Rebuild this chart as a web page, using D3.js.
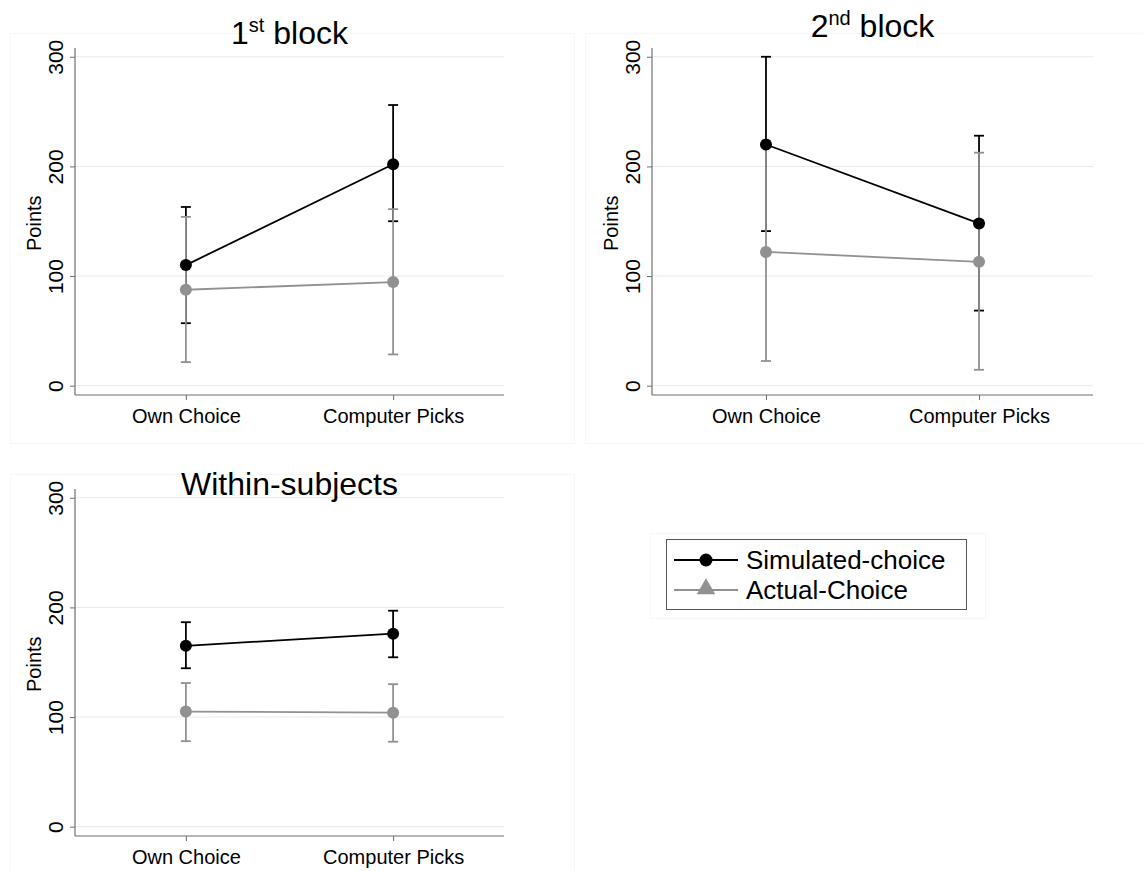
<!DOCTYPE html>
<html>
<head>
<meta charset="utf-8">
<script src="https://cdn.jsdelivr.net/npm/d3@7"></script>
<style>
  body { margin: 0; background: #fff; }
  svg { display: block; font-family: "Liberation Sans", Arial, sans-serif; }
</style>
</head>
<body>
<svg width="1143" height="871"></svg>
<script>
// data
const categories = ["Own Choice", "Computer Picks"];
const yTicks = [0, 100, 200, 300];
const titleMain = ["1", "2", "Within-subjects"];
const titleSup = ["st", "nd", ""];
const titleRest = [" block", " block", ""];

const simMean = [[110, 202], [220, 148], [165, 176]];
const simLo   = [[57, 150], [141, 68.5], [144.5, 154.5]];
const simHi   = [[163, 256], [300, 228], [186.5, 197]];

const actMean = [[87.5, 94.5], [122, 113], [105, 104]];
const actLo   = [[21.5, 28.5], [22.5, 14.5], [78, 77.5]];
const actHi   = [[154, 161], [221, 212.5], [131, 130]];

const seriesNames = ["Simulated-choice", "Actual-Choice"];

let svg = d3.select("svg");

let simColor = "#000";
let actColor = "#919191";
let axisColor = "#6f6f6f";
let gridColor = "#e4ecee";
let frameColor = "#f7f7f7";

// plot region of each panel (axis left / right / top / bottom)
let layout = [
    {left: 75,  right: 504,  top: 48,  bottom: 395, titleY: 44, frame: [10.5, 33.5, 564, 410]},
    {left: 652, right: 1093, top: 48,  bottom: 395, titleY: 37, frame: [585.5, 33.5, 558, 410]},
    {left: 75,  right: 504,  top: 489, bottom: 836, titleY: 495, frame: [10.5, 474.5, 564, 397]}
];

layout.forEach((L, p) => {
    let g = svg.append("g").attr("class", "panel");

    g.append("rect")
        .attr("x", L.frame[0]).attr("y", L.frame[1])
        .attr("width", L.frame[2]).attr("height", L.frame[3])
        .attr("fill", "none").attr("stroke", frameColor);

    let x = d3.scalePoint()
        .domain(categories)
        .range([L.left, L.right])
        .padding(0.535);

    let y = d3.scaleLinear()
        .domain([-8.5, 308])
        .range([L.bottom, L.top]);

    // gridlines
    g.selectAll(".grid")
        .data(yTicks)
        .enter().append("line")
        .attr("x1", L.left).attr("x2", L.right)
        .attr("y1", d => y(d)).attr("y2", d => y(d))
        .attr("stroke", gridColor).attr("stroke-width", 1);

    // y axis
    let yAxis = g.append("g")
        .attr("transform", `translate(${L.left},0)`)
        .call(d3.axisLeft(y).tickValues(yTicks).tickSize(5).tickSizeOuter(0));
    yAxis.select(".domain").attr("stroke", axisColor).attr("stroke-width", 1.2)
        .attr("d", `M0,${L.top}V${L.bottom}`);
    yAxis.selectAll(".tick line").attr("stroke", axisColor);
    // rotate labels around the tick position
    yAxis.selectAll(".tick text")
        .attr("font-size", 21).attr("fill", "#000")
        .attr("font-family", null)
        .attr("text-anchor", "middle")
        .attr("x", null).attr("y", null).attr("dy", 0)
        .attr("transform", "translate(-12,0) rotate(-90)");

    // x axis
    let xAxis = g.append("g")
        .attr("transform", `translate(0,${L.bottom})`)
        .call(d3.axisBottom(x).tickSize(5).tickSizeOuter(0).tickPadding(9));
    xAxis.select(".domain").attr("stroke", axisColor).attr("stroke-width", 1.2)
        .attr("d", `M${L.left},0H${L.right}`);
    xAxis.selectAll(".tick line").attr("stroke", axisColor);
    xAxis.selectAll(".tick text")
        .attr("font-size", 20).attr("fill", "#000")
        .attr("font-family", null);

    // y title
    g.append("text")
        .attr("transform", `translate(${L.left - 34},${(y(0) + y(300)) / 2 + 2}) rotate(-90)`)
        .attr("text-anchor", "middle")
        .attr("font-size", 20)
        .text("Points");

    // panel title
    let t = g.append("text")
        .attr("x", (L.left + L.right) / 2)
        .attr("y", L.titleY)
        .attr("text-anchor", "middle")
        .attr("font-size", 32);
    t.append("tspan").text(titleMain[p]);
    if (titleSup[p]) {
        t.append("tspan").attr("font-size", 20).attr("dy", -12).text(titleSup[p]);
        t.append("tspan").attr("dy", 12).text(titleRest[p]);
    }

    let series = [
        {mean: simMean[p], lo: simLo[p], hi: simHi[p], color: simColor},
        {mean: actMean[p], lo: actLo[p], hi: actHi[p], color: actColor}
    ];

    // error bars first, simulated under actual
    series.forEach(s => {
        let bars = g.append("g");
        categories.forEach((c, i) => {
            let cx = x(c);
            bars.append("line")
                .attr("x1", cx).attr("x2", cx)
                .attr("y1", y(s.lo[i])).attr("y2", y(s.hi[i]))
                .attr("stroke", s.color).attr("stroke-width", 1.8);
            [s.lo[i], s.hi[i]].forEach(v => {
                bars.append("line")
                    .attr("x1", cx - 5).attr("x2", cx + 5)
                    .attr("y1", y(v)).attr("y2", y(v))
                    .attr("stroke", s.color).attr("stroke-width", 1.8);
            });
        });
    });

    // connected lines + markers
    let line = d3.line()
        .x((d, i) => x(categories[i]))
        .y(d => y(d));
    series.forEach(s => {
        g.append("path")
            .datum(s.mean)
            .attr("d", line)
            .attr("fill", "none")
            .attr("stroke", s.color).attr("stroke-width", 1.8);
        g.selectAll(null)
            .data(s.mean)
            .enter().append("circle")
            .attr("cx", (d, i) => x(categories[i]))
            .attr("cy", d => y(d))
            .attr("r", 6)
            .attr("fill", s.color);
    });
});

/* LEGEND */
let leg = svg.append("g").attr("class", "legend");
leg.append("rect")
    .attr("x", 650.5).attr("y", 533.5).attr("width", 335).attr("height", 85)
    .attr("fill", "none").attr("stroke", frameColor);
leg.append("rect")
    .attr("x", 666.5).attr("y", 539.5).attr("width", 300).attr("height", 70)
    .attr("fill", "#fff").attr("stroke", "#555").attr("stroke-width", 1);

let legY = d3.scalePoint().domain(seriesNames).range([560, 590]);
let legColors = [simColor, actColor];

seriesNames.forEach((name, i) => {
    let cy = legY(name);
    leg.append("line")
        .attr("x1", 674).attr("x2", 738)
        .attr("y1", cy).attr("y2", cy)
        .attr("stroke", legColors[i]).attr("stroke-width", 1.8);
    if (i == 0) {
        leg.append("circle")
            .attr("cx", 706).attr("cy", cy).attr("r", 6.5)
            .attr("fill", legColors[i]);
    } else {
        leg.append("path")
            .attr("d", d3.symbol().type(d3.symbolTriangle).size(150))
            .attr("transform", `translate(706,${cy - 1})`)
            .attr("fill", legColors[i]);
    }
    leg.append("text")
        .attr("x", 746).attr("y", cy + 9)
        .attr("font-size", 26)
        .text(name);
});
</script>
</body>
</html>
